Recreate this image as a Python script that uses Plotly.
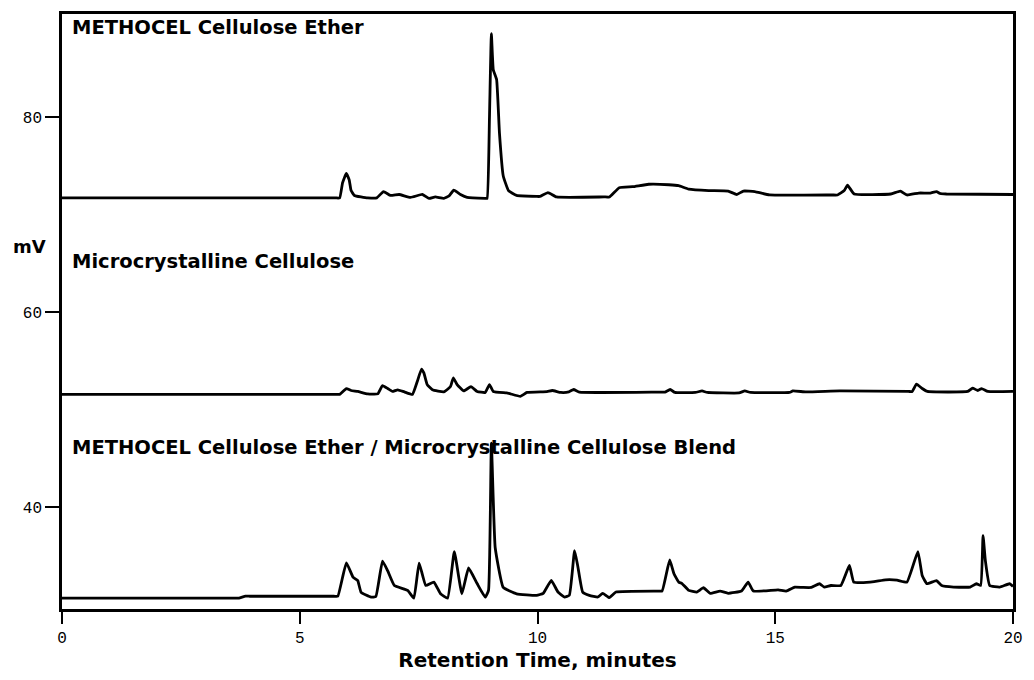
import plotly.graph_objects as go

# Retention time (min) / signal (mV)
methocel_x = [0, 5.75, 5.84, 5.90, 5.98, 6.04, 6.08, 6.15, 6.43, 6.62, 6.76,
              6.91, 7.09, 7.33, 7.58, 7.72, 7.85, 8.03, 8.14, 8.24, 8.38,
              8.52, 8.90, 8.94, 8.99, 9.03, 9.07, 9.14, 9.2, 9.28, 9.39, 9.56,
              9.98, 10.05, 10.22, 10.40, 11.40, 11.51, 11.72, 12.0, 12.34, 12.76, 12.97,
              13.18, 13.6, 14.01, 14.19, 14.33, 14.57, 14.88, 16.20, 16.31, 16.45, 16.52,
              16.66, 17.43, 17.63, 17.77, 18.02, 18.26, 18.39, 18.47, 18.60, 20]
methocel_y = [71.75, 71.75, 71.75, 73.3, 74.25, 73.6, 72.5, 72.0, 71.75, 71.75, 72.4,
              72.0, 72.1, 71.8, 72.1, 71.7, 71.85, 71.7, 71.95, 72.55, 72.1,
              71.8, 71.7, 71.7, 80, 88.6, 84.9, 83.9, 78.4, 74.0, 72.5, 72.0,
              71.9, 71.9, 72.3, 71.85, 71.85, 71.85, 72.8, 72.9, 73.15, 73.1, 73.0,
              72.65, 72.5, 72.45, 72.1, 72.45, 72.4, 72.05, 72.05, 72.05, 72.5, 73.05,
              72.15, 72.15, 72.45, 72.05, 72.25, 72.25, 72.4, 72.2, 72.15, 72.1]

mcc_x = [0, 5.75, 5.84, 5.98, 6.08, 6.22, 6.43, 6.64, 6.74, 6.85, 6.95,
         7.06, 7.2, 7.37, 7.47, 7.56, 7.61, 7.68, 7.79, 8.03, 8.17,
         8.23, 8.31, 8.45, 8.6, 8.73, 8.9, 8.99, 9.07, 9.35, 9.43,
         9.64, 9.78, 10.2, 10.31, 10.49, 10.66, 10.76, 10.88, 12.55, 12.68, 12.79,
         12.89, 13.32, 13.46, 13.57, 14.24, 14.36, 14.48, 15.3, 15.37, 15.65,
         16.36, 17.80, 17.88, 17.97, 18.09, 18.2, 19.05, 19.15, 19.26, 19.34, 19.47, 20]
mcc_y = [51.6, 51.6, 51.6, 52.2, 52.0, 51.9, 51.65, 51.65, 52.5, 52.2, 51.9,
         52.07, 51.85, 51.6, 52.9, 54.2, 53.8, 52.6, 52.07, 51.85, 52.4,
         53.3, 52.6, 51.95, 52.4, 51.9, 51.8, 52.6, 51.9, 51.75, 51.66,
         51.4, 51.8, 51.88, 52.0, 51.8, 51.86, 52.1, 51.83, 51.83, 51.83, 52.1,
         51.8, 51.8, 51.95, 51.8, 51.75, 51.95, 51.8, 51.8, 51.95, 51.85,
         51.95, 51.9, 51.9, 52.65, 52.2, 51.9, 51.9, 52.24, 52.0, 52.2, 51.9, 51.9]

blend_x = [0, 3.65, 3.72, 3.86, 3.95, 5.72, 5.80, 5.98, 6.12, 6.22, 6.29, 6.5, 6.6,
           6.74, 6.85, 6.99, 7.27, 7.4, 7.51, 7.65, 7.82, 7.96, 8.11,
           8.25, 8.41, 8.55, 8.73, 8.9, 8.97, 9.03, 9.11, 9.28, 9.56,
           9.98, 10.12, 10.29, 10.43, 10.57, 10.67, 10.78, 10.85, 10.95, 11.09,
           11.27, 11.37, 11.51, 11.65, 12.50, 12.62, 12.78, 12.87, 12.97, 13.04, 13.18,
           13.35, 13.49, 13.63, 13.84, 14.01, 14.29, 14.43, 14.54, 15.06, 15.23,
           15.41, 15.58, 15.76, 15.93, 16.03, 16.17, 16.38, 16.56, 16.65, 16.8,
           17.08, 17.32, 17.56, 17.77, 18.0, 18.09, 18.19, 18.39, 18.5, 18.75,
           19.1, 19.23, 19.32, 19.37, 19.42, 19.51, 19.72, 19.93, 20]
blend_y = [30.71, 30.71, 30.71, 30.9, 30.9, 30.9, 30.9, 34.32, 32.86, 32.5, 31.3, 30.8, 30.87,
           34.5, 33.5, 32.0, 31.5, 30.7, 34.3, 32.0, 32.35, 31.15, 30.7,
           35.47, 31.15, 33.8, 32.2, 30.8, 31.5, 46.6, 35.9, 31.8, 31.15,
           30.99, 31.2, 32.52, 31.33, 30.82, 31.0, 35.58, 33.9, 31.33, 30.99,
           30.82, 31.2, 30.75, 31.33, 31.43, 31.43, 34.62, 33.2, 32.35, 32.2, 31.5,
           31.33, 31.77, 31.2, 31.43, 31.2, 31.43, 32.35, 31.43, 31.56, 31.43,
           31.84, 31.8, 31.8, 32.18, 31.84, 32.0, 32.0, 34.05, 32.35, 32.3,
           32.4, 32.58, 32.55, 32.35, 35.47, 33.03, 32.18, 32.5, 32.0, 31.84,
           31.84, 32.18, 32.0, 37.1, 34.5, 32.0, 31.84, 32.18, 31.9]

trace_labels = ["METHOCEL Cellulose Ether",
                "Microcrystalline Cellulose",
                "METHOCEL Cellulose Ether / Microcrystalline Cellulose Blend"]
label_y = [89.2, 65.2, 46.2]

x_ticks = [0, 5, 10, 15, 20]
y_ticks = [40, 60, 80]

fig = go.Figure()
for xs, ys in [(methocel_x, methocel_y), (mcc_x, mcc_y), (blend_x, blend_y)]:
    fig.add_trace(go.Scatter(x=xs, y=ys, mode="lines",
                             line=dict(color="black", width=2.8, shape="spline", smoothing=0.35),
                             showlegend=False, hoverinfo="skip"))

bold_family = "DejaVu Sans, Verdana, sans-serif"
label_font = dict(family=bold_family, size=19.5, color="black")
for txt, yy in zip(trace_labels, label_y):
    fig.add_annotation(x=0.16, y=yy, xref="x", yref="y", text="<b>" + txt + "</b>",
                       showarrow=False, xanchor="left", yanchor="middle", font=label_font)

fig.add_annotation(x=-0.034, y=66.8, xref="paper", yref="y", text="<b>mV</b>",
                   showarrow=False, xanchor="center", yanchor="middle",
                   font=dict(family=bold_family, size=18, color="black"))

tick_font = dict(family="Liberation Mono, Courier New, monospace", size=16, color="black")
fig.update_xaxes(range=[0, 20], tickvals=x_ticks, ticks="outside", ticklen=12, tickwidth=2.2,
                 tickcolor="black", showline=True, linecolor="black", linewidth=2.5,
                 mirror=True, showgrid=False, zeroline=False, tickfont=tick_font,
                 title=dict(text="<b>Retention Time, minutes</b>", standoff=7,
                            font=dict(family=bold_family, size=20, color="black")))
fig.update_yaxes(range=[29.59, 90.61], tickvals=y_ticks, ticks="outside", ticklen=14, tickwidth=2.2,
                 tickcolor="black", showline=True, linecolor="black", linewidth=2.5,
                 mirror=True, showgrid=False, zeroline=False, tickfont=tick_font)

fig.update_layout(width=1034, height=680, margin=dict(l=62, r=11, t=14, b=68),
                  paper_bgcolor="white", plot_bgcolor="white")

fig.write_html("out.html")
